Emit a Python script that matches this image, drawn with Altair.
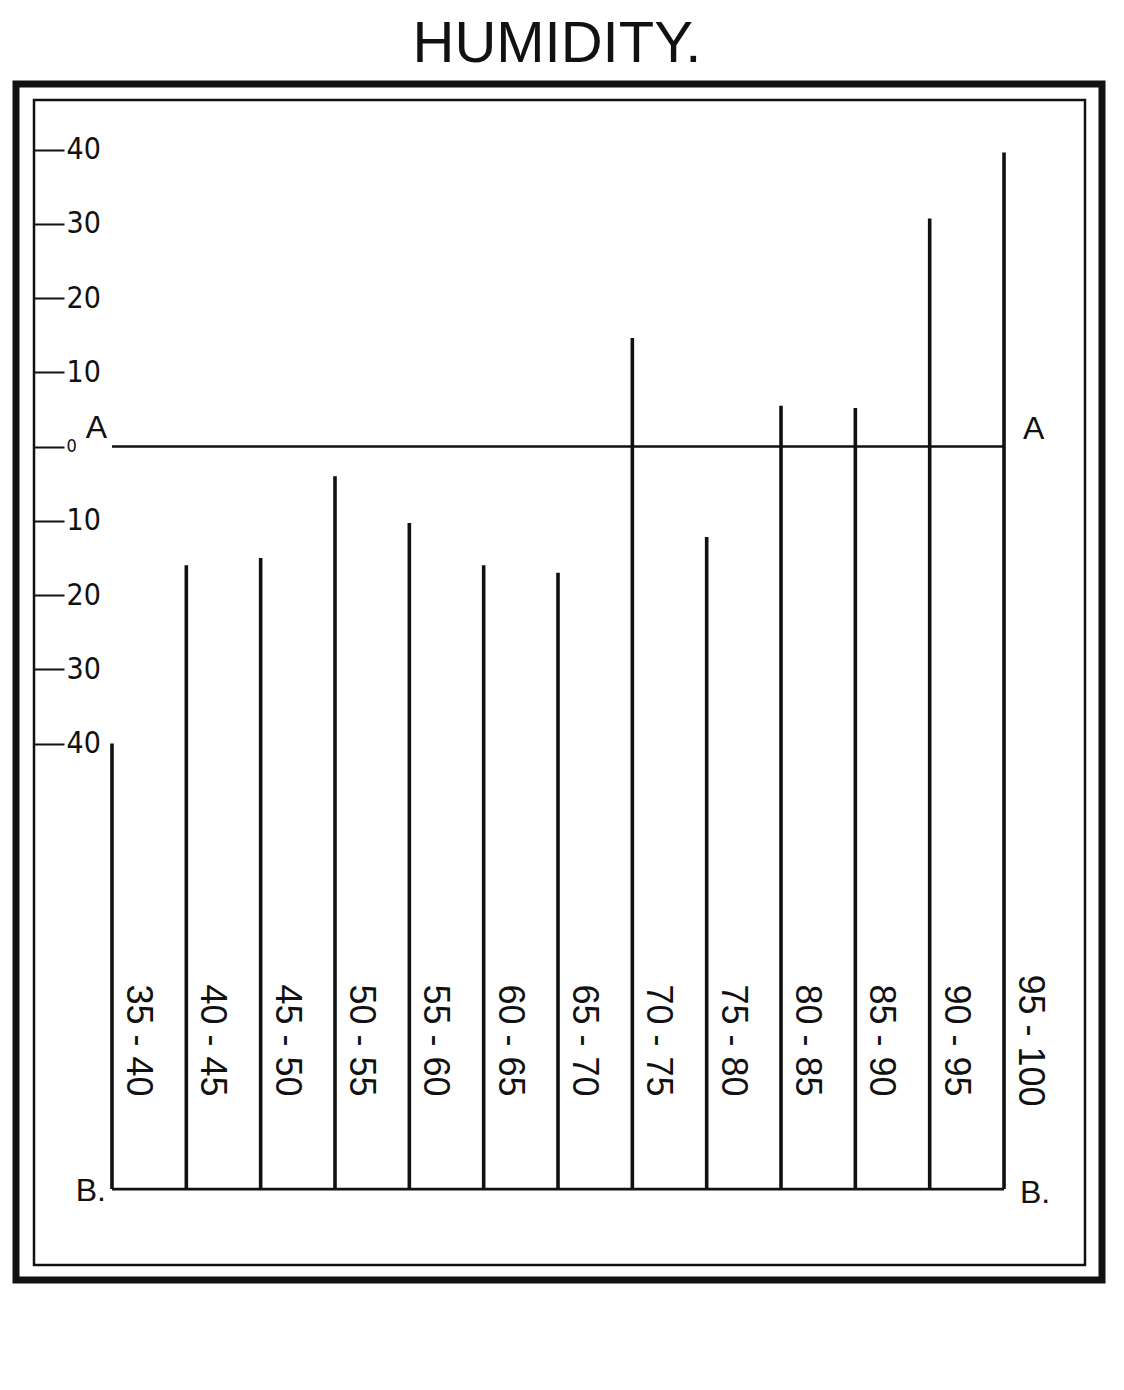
import altair as alt
import pandas as pd

# ---- data ----
ranges = ["35 - 40", "40 - 45", "45 - 50", "50 - 55", "55 - 60", "60 - 65", "65 - 70",
          "70 - 75", "75 - 80", "80 - 85", "85 - 90", "90 - 95", "95 - 100"]
lower = [35, 40, 45, 50, 55, 60, 65, 70, 75, 80, 85, 90, 95]
values = [-40, -16, -15, -4, -10.3, -16, -17, 14.6, -12.2, 5.5, 5.2, 30.7, 39.6]
baseline = -100
tick_values = [40, 30, 20, 10, 0, -10, -20, -30, -40]
title_text = "HUMIDITY."

df = pd.DataFrame({"range": ranges, "lo": lower, "value": values, "base": [baseline] * len(lower)})

W, H = 1051, 1165
BLACK = "#111111"
FONT = "Liberation Sans"
NARROW = "Liberation Sans Narrow, DejaVu Sans Condensed, Liberation Sans"

xscale = alt.Scale(domain=[29.754, 100.447], nice=False, zero=False)
yscale = alt.Scale(domain=[-110.23, 46.67], nice=False, zero=False)

base = alt.Chart(df)

bars = base.mark_rule(color=BLACK, strokeWidth=3.6, strokeCap="butt").encode(
    x=alt.X("lo:Q", scale=xscale, axis=None),
    y=alt.Y(
        "base:Q",
        scale=yscale,
        title=None,
        axis=alt.Axis(
            orient="right",
            offset=-W,
            values=tick_values,
            domain=False,
            grid=False,
            tickSize=30,
            tickWidth=2,
            tickColor=BLACK,
            labelColor=BLACK,
            labelFont=NARROW,
            labelFontSize={"condition": {"test": "datum.value == 0", "value": 18}, "value": 30},
            labelPadding=2,
            labelAlign="left",
            labelBaseline="middle",
            labelExpr="'' + abs(datum.value)",
        ),
    ),
    y2="value:Q",
)

one = alt.Data(values=[{"k": 1}])

a_line = alt.Chart(one).mark_rule(color=BLACK, strokeWidth=2.5).encode(
    x=alt.X(datum=35, axis=None), x2=alt.X2(datum=95), y=alt.Y(datum=0)
)
b_line = alt.Chart(one).mark_rule(color=BLACK, strokeWidth=2.8).encode(
    x=alt.X(datum=35, axis=None), x2=alt.X2(datum=95), y=alt.Y(datum=baseline)
)

labels = base.transform_calculate(lx="datum.lo + 1.75").mark_text(
    angle=90, align="center", baseline="middle", font=FONT, fontSize=36, color=BLACK
).encode(
    x=alt.X("lx:Q", axis=None),
    y=alt.Y(datum=-80),
    text="range:N",
)

a_left = alt.Chart(one).mark_text(text="A", align="right", baseline="bottom", dx=-5, dy=-2,
                                  font=FONT, fontSize=32, color=BLACK).encode(
    x=alt.X(datum=35, axis=None), y=alt.Y(datum=0))
a_right = alt.Chart(one).mark_text(text="A", align="left", baseline="bottom", dx=19, dy=-1,
                                   font=FONT, fontSize=32, color=BLACK).encode(
    x=alt.X(datum=95, axis=None), y=alt.Y(datum=0))
b_left = alt.Chart(one).mark_text(text="B.", align="right", baseline="middle", dx=-6, dy=2,
                                  font=FONT, fontSize=32, color=BLACK).encode(
    x=alt.X(datum=35, axis=None), y=alt.Y(datum=baseline))
b_right = alt.Chart(one).mark_text(text="B.", align="left", baseline="middle", dx=16, dy=4,
                                   font=FONT, fontSize=32, color=BLACK).encode(
    x=alt.X(datum=95, axis=None), y=alt.Y(datum=baseline))

outer = alt.Chart(one).mark_rect(fillOpacity=0, stroke=BLACK, strokeWidth=7).encode(
    x=alt.value(-18), x2=alt.value(1068), y=alt.value(-16), y2=alt.value(1180)
)

title = alt.Chart(one).mark_text(
    text=title_text, align="center", baseline="alphabetic",
    font=FONT, fontSize=58, fontWeight="normal", color=BLACK
).encode(x=alt.value(523), y=alt.value(-38))

chart = alt.layer(outer, a_line, b_line, bars, labels, a_left, a_right, b_left, b_right, title).properties(
    width=W,
    height=H,
    autosize="none",
    padding={"left": 26, "top": 92, "right": 30, "bottom": 110},
    background="white",
).configure_view(stroke=BLACK, strokeWidth=2.5)

chart.save("out.html", embed_options={"renderer": "svg", "actions": False})
